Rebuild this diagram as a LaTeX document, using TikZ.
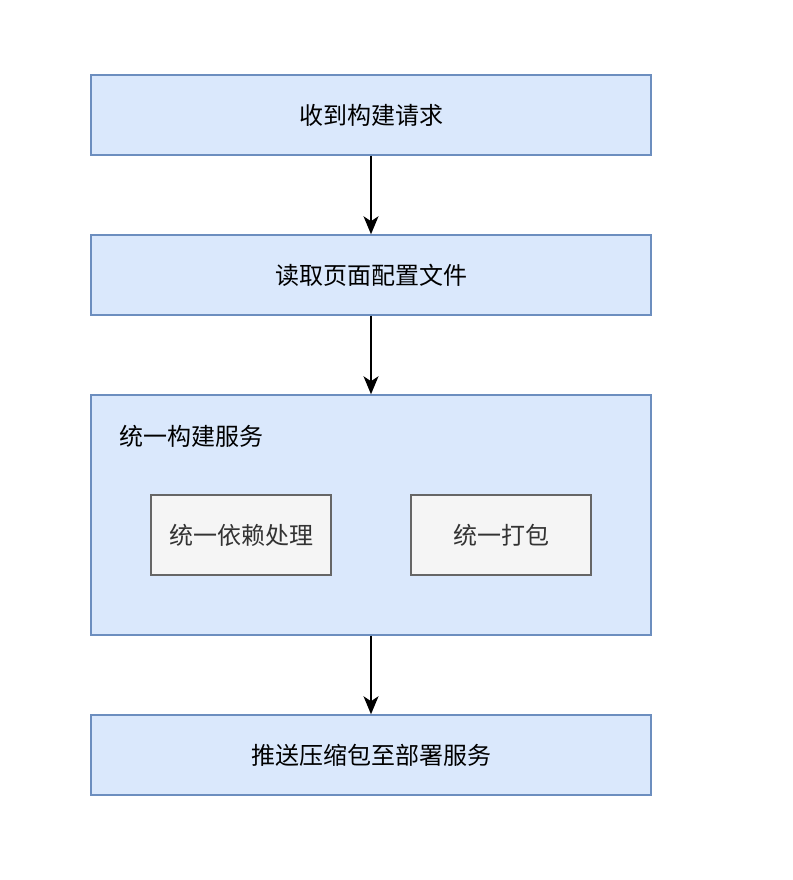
\documentclass[tikz,border=0pt]{standalone}
\usepackage{fontspec}
\newfontfamily\cjk{Noto Sans CJK SC}
\usetikzlibrary{arrows.meta,positioning}
\definecolor{stepfill}{HTML}{DAE8FC}
\definecolor{stepline}{HTML}{6C8EBF}
\definecolor{subfill}{HTML}{F5F5F5}
\definecolor{subline}{HTML}{666666}
\definecolor{subtext}{HTML}{333333}

\begin{document}
\begin{tikzpicture}[x=1pt,y=-1pt, every node/.style={font=\cjk\fontsize{24}{28}\selectfont},
    stepbox/.style={draw=stepline, rectangle, line width=1.5pt, fill=stepfill, minimum width=560pt, minimum height=80pt, inner sep=0pt},
    subbox/.style={draw=subline, rectangle, line width=1.5pt, fill=subfill, text=subtext, minimum width=180pt, minimum height=80pt, inner sep=0pt},
    flow/.style={line width=1.5pt, -{Stealth[length=18pt, width=15pt, inset=5pt]}}]
    \useasboundingbox (0,0) rectangle (792,880);
    \node[stepbox] (req) at (371,115) {收到构建请求};
    \node[stepbox] (cfg) at (371,275) {读取页面配置文件};
    \node[stepbox, minimum height=240pt] (svc) at (371,515) {};
    \node[anchor=west, inner sep=0pt] (svclabel) at (119,436) {统一构建服务};
    \node[subbox] (dep) at (241,535) {统一依赖处理};
    \node[subbox] (pack) at (501,535) {统一打包};
    \node[stepbox] (push) at (371,755) {推送压缩包至部署服务};
    \draw[flow] (req) -- (cfg);
    \draw[flow] (cfg) -- (svc);
    \draw[flow] (svc) -- (push);
\end{tikzpicture}
\end{document}
